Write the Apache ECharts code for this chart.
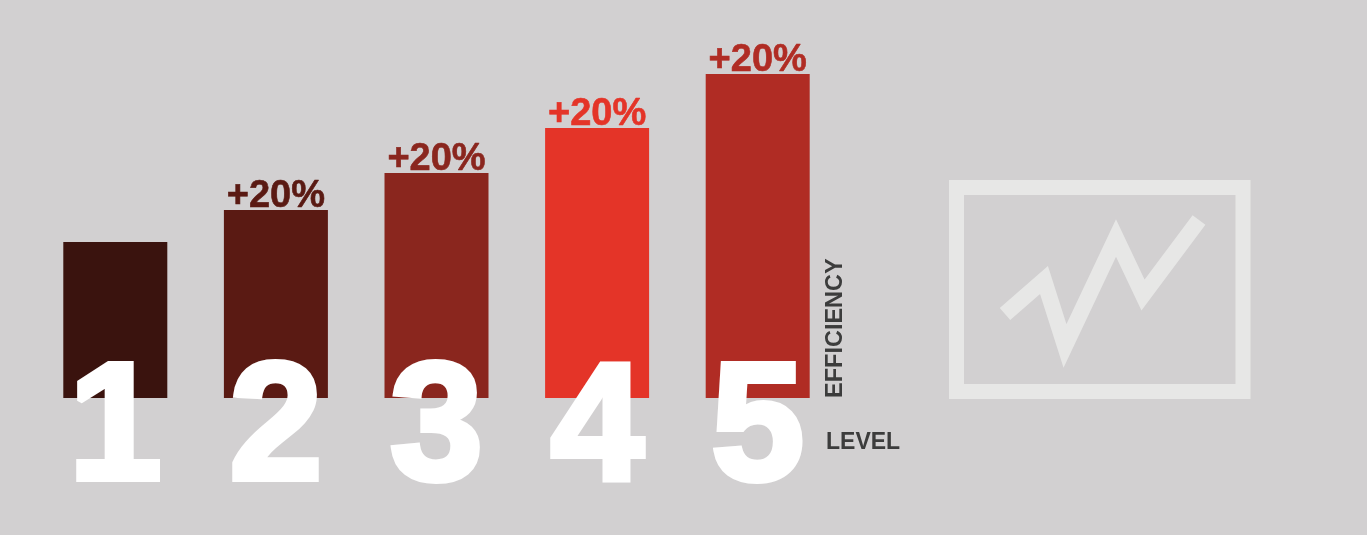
<!DOCTYPE html>
<html><head><meta charset="utf-8">
<style>html,body{margin:0;padding:0;background:#d2d0d1}#c{width:1367px;height:535px}</style>
<script src="https://cdn.jsdelivr.net/npm/echarts@6/dist/echarts.min.js"></script></head>
<body><div id="c"></div>
<script>
const categories=['1','2','3','4','5'];
const values=[156,188,225,270,324];
const labels=['','+20%','+20%','+20%','+20%'];
const colors=['#3a130e','#5a1a13','#8a261e','#e43428','#b02c24'];
const chart=echarts.init(document.getElementById('c'),null,{renderer:'canvas'});
const FONT='"Liberation Sans",Arial,sans-serif';
chart.setOption({
 backgroundColor:'#d2d0d1',animation:false,
 grid:{left:35,top:0,width:803,height:398,containLabel:false},
 xAxis:{type:'category',data:categories,axisLine:{show:false},axisTick:{show:false},
  axisLabel:{show:true,color:'#fff',fontFamily:FONT,fontWeight:'bold',fontSize:167,margin:-49,verticalAlign:'top',lineHeight:167,
   textBorderColor:'#fff',textBorderWidth:6},z:10},
 yAxis:{type:'value',min:0,max:398,show:false},
 series:[{type:'bar',barWidth:104,z:1,
  data:values.map((v,i)=>({value:v,itemStyle:{color:colors[i]},
   label:{show:!!labels[i],formatter:labels[i],position:'top',distance:-6,color:colors[i],fontFamily:FONT,fontSize:38,fontWeight:'bold',
    textBorderColor:colors[i],textBorderWidth:0.6}})) }],
 graphic:[
  {type:'text',left:826,top:431,style:{text:'LEVEL',fill:'#3c3c3c',font:'bold 23px '+FONT}},
  {type:'text',x:836,y:398,rotation:Math.PI/2,style:{text:'EFFICIENCY',fill:'#3c3c3c',font:'bold 23.5px '+FONT,align:'left',verticalAlign:'middle'}},
  {type:'rect',shape:{x:956.5,y:187.5,width:286.5,height:204},style:{fill:'none',stroke:'#e7e7e6',lineWidth:15}},
  {type:'polyline',shape:{points:[[1005,314],[1044,280],[1065,346],[1116,238],[1143,295],[1199,220]]},style:{fill:'none',stroke:'#e7e7e6',lineWidth:16,lineJoin:'miter',miterLimit:20}}
 ]
});
</script></body></html>
